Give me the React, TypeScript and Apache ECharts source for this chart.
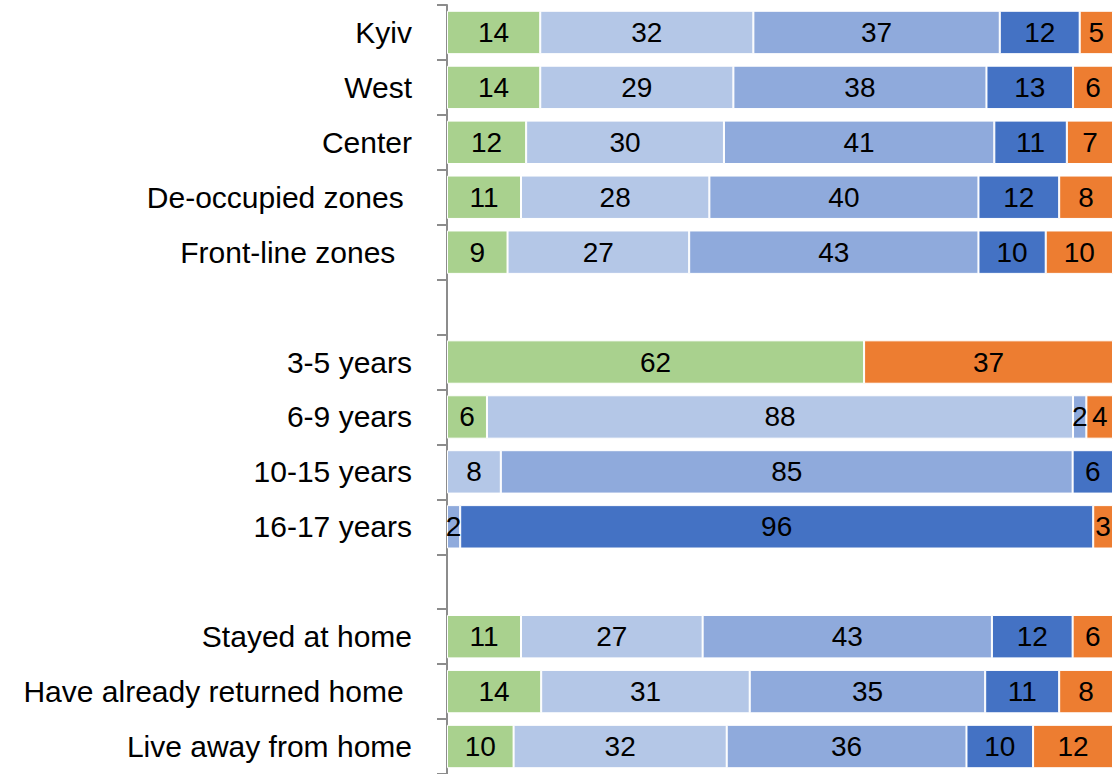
import React, { useEffect, useRef } from "react";
import * as echarts from "echarts";

const categories = [
  "Kyiv",
  "West",
  "Center",
  "De-occupied zones ",
  "Front-line zones  ",
  "",
  "3-5 years",
  "6-9 years",
  "10-15 years",
  "16-17 years",
  " ",
  "Stayed at home",
  "Have already returned home ",
  "Live away from home",
];

const seriesNames = ["Group 1", "Group 2", "Group 3", "Group 4", "Group 5"];
const colors = ["#A9D18E", "#B4C7E7", "#8FAADC", "#4472C4", "#ED7D31"];

const s1 = [14, 14, 12, 11, 9, null, 62, 6, 0, 0, null, 11, 14, 10];
const s2 = [32, 29, 30, 28, 27, null, 0, 88, 8, 0, null, 27, 31, 32];
const s3 = [37, 38, 41, 40, 43, null, 0, 2, 85, 2, null, 43, 35, 36];
const s4 = [12, 13, 11, 12, 10, null, 0, 0, 6, 96, null, 12, 11, 10];
const s5 = [5, 6, 7, 8, 10, null, 37, 4, 0, 3, null, 6, 8, 12];

const raw = [s1, s2, s3, s4, s5];

export default function App() {
  const ref = useRef<HTMLDivElement>(null);
  useEffect(() => {
    if (!ref.current) return;
    const chart = echarts.init(ref.current, undefined, { renderer: "svg" });
    const totals = categories.map((_, i) =>
      raw.reduce((acc, s) => acc + ((s[i] as number) || 0), 0)
    );
    const series = raw.map((s, k) => ({
      name: seriesNames[k],
      type: "bar",
      stack: "total",
      barCategoryGap: "21%",
      itemStyle: { color: colors[k], borderColor: "#ffffff", borderWidth: 1 },
      label: {
        show: true,
        position: "inside",
        color: "#000000",
        fontSize: 28,
        fontFamily: "'Liberation Sans Narrow', 'Arial Narrow', 'Liberation Sans', Arial, sans-serif",
        formatter: (p: any) => {
          const v = s[p.dataIndex];
          return v ? String(v) : "";
        },
      },
      data: s.map((v, i) =>
        v === null || !v ? "-" : ((v as number) / totals[i]) * 100
      ),
    }));
    chart.setOption({
      animation: false,
      grid: { left: 447, right: 2, top: 5, bottom: 0, containLabel: false },
      xAxis: {
        type: "value",
        min: 0,
        max: 100,
        show: false,
      },
      yAxis: {
        type: "category",
        inverse: true,
        data: categories,
        axisLine: { show: true, lineStyle: { color: "#8C8C8C", width: 2 } },
        axisTick: { show: true, length: 10, lineStyle: { color: "#8C8C8C", width: 2 } },
        axisLabel: {
          margin: 35,
          color: "#000000",
          fontSize: 30,
          fontFamily: "'Liberation Sans', Arial, sans-serif",
          interval: 0,
        },
        splitLine: { show: false },
      },
      series,
    });
    return () => chart.dispose();
  }, []);
  return (
    <div
      ref={ref}
      style={{ position: "fixed", left: 0, top: 0, width: 1115, height: 774, background: "#fff" }}
    />
  );
}
